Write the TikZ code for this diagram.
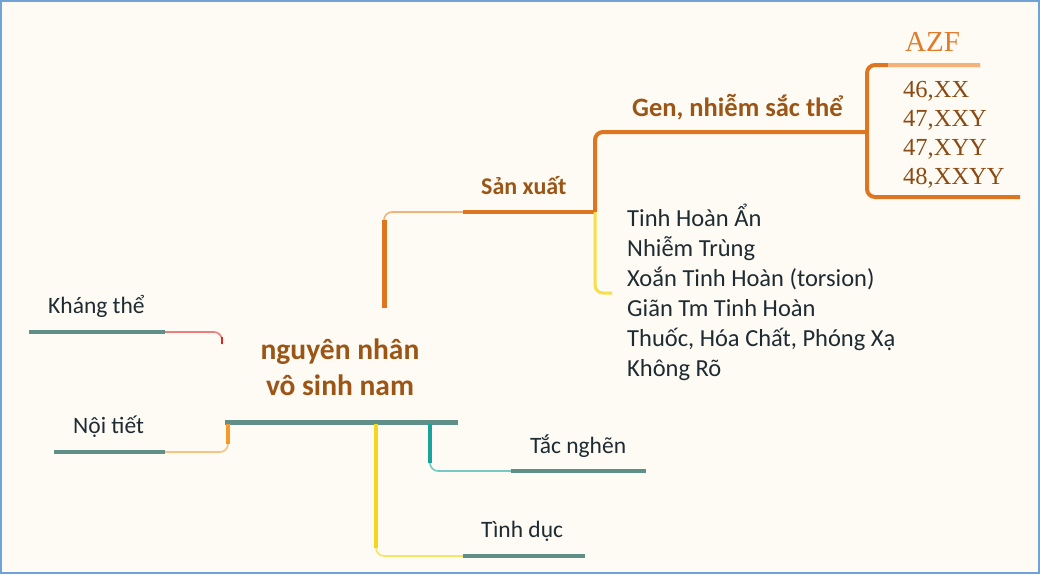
\documentclass[tikz,border=0pt]{standalone}
\usepackage{fontspec}
\setmainfont{Carlito}
\newfontfamily\karyofont{Liberation Serif}
\usetikzlibrary{positioning}
\definecolor{paper}{HTML}{FDFBF3}
\definecolor{frameblue}{HTML}{6FA3D8}
\definecolor{hubteal}{HTML}{5F8F86}
\definecolor{branchorange}{HTML}{DE7520}
\definecolor{lightorange}{HTML}{F2B27A}
\definecolor{titlebrown}{HTML}{9B5516}
\definecolor{karyobrown}{HTML}{8A4A14}
\definecolor{azforange}{HTML}{E07B2A}
\definecolor{inkdark}{HTML}{1E2B33}
\definecolor{twigyellow}{HTML}{F5D720}
\definecolor{twigred}{HTML}{E0261E}
\definecolor{twigteal}{HTML}{1AA399}
\definecolor{twigorange}{HTML}{F39A2A}
\tikzset{leaf/.style={font=\fontsize{23.5}{28}\selectfont,text=inkdark,inner sep=0pt,anchor=base west},
  main node/.style={font=\bfseries\fontsize{29.5}{36}\selectfont,text=titlebrown,align=center,inner sep=0pt},
  bold label/.style={font=\bfseries\fontsize{24}{28}\selectfont,text=titlebrown,inner sep=0pt,anchor=base west},
  karyo/.style={font=\karyofont\fontsize{24.5}{28}\selectfont,text=karyobrown,inner sep=0pt,anchor=base west},
  uline/.style={line width=4pt,hubteal},
  branch/.style={line width=4pt,branchorange,rounded corners=8pt},
  twig/.style={line width=1.6pt,rounded corners=8pt},
  stem/.style={line width=4pt,shorten >=8pt}}

\begin{document}
\begin{tikzpicture}[x=1pt,y=-1pt]
    \fill[paper] (0,0) rectangle (1040,574);
    \draw[frameblue,line width=2pt] (1,1) rectangle (1039,573);
    \useasboundingbox (0,0) rectangle (1040,574);
    % centre
    \node[main node] (root) at (340,367) {nguyên nhân\\vô sinh nam};
    \coordinate (hub-l) at (225,422);
    \coordinate (hub-r) at (458,422);
    \draw[line width=5pt,hubteal] (hub-l) -- (hub-r);
    % left side
    \node[leaf] (kt) at (48,313) {Kháng thể};
    \coordinate (kt-l) at (29,332);
    \coordinate (kt-r) at (165,332);
    \coordinate (kt-end) at (222,344);
    \draw[uline] (kt-l) -- (kt-r);
    \draw[twig,twigred!60] (kt-r) -| (kt-end);
    \draw[stem,twigred,line width=2.5pt,shorten >=5pt] (kt-end) -- (kt-end |- kt-r);
    \node[leaf] (nt) at (73,433) {Nội tiết};
    \coordinate (nt-l) at (54,452);
    \coordinate (nt-r) at (165,452);
    \coordinate (nt-top) at (228,424);
    \draw[uline] (nt-l) -- (nt-r);
    \draw[twig,twigorange!60] (nt-r) -| (nt-top);
    \draw[stem,twigorange] (nt-top) -- (nt-top |- nt-r);
    % bottom side
    \coordinate (hub-y) at (376,424);
    \coordinate (td-l) at (463,556);
    \coordinate (td-r) at (585,556);
    \node[leaf] (td) at (481,537) {Tình dục};
    \draw[twig,twigyellow!70] (hub-y) |- (td-l);
    \draw[stem,twigyellow] (hub-y) -- (hub-y |- td-l);
    \draw[uline] (td-l) -- (td-r);
    \coordinate (hub-t) at (430,424);
    \coordinate (tn-l) at (511,471);
    \coordinate (tn-r) at (646,471);
    \node[leaf] (tn) at (530,453) {Tắc nghẽn};
    \draw[twig,twigteal!60] (hub-t) |- (tn-l);
    \draw[stem,twigteal] (hub-t) -- (hub-t |- tn-l);
    \draw[uline] (tn-l) -- (tn-r);
    % production branch
    \coordinate (sx-root) at (384,308);
    \coordinate (sx-l) at (463,212);
    \coordinate (sx-r) at (595,212);
    \node[bold label] (sx) at (481,194) {Sản xuất};
    \draw[twig,lightorange] (sx-root) |- (sx-l);
    \draw[stem,branchorange,line width=5pt] (sx-root) -- (sx-root |- sx-l);
    \draw[line width=4pt,branchorange] (sx-l) -- (sx-r);
    \coordinate (gen-r) at (867,132);
    \node[bold label,font=\bfseries\fontsize{26.5}{30}\selectfont] (gen) at (632,116) {Gen, nhiễm sắc thể};
    \draw[branch] (sx-r) |- (gen-r);
    \coordinate (list-tip) at (612,293);
    \draw[line width=3pt,twigyellow!80,rounded corners=8pt] (sx-r) |- (list-tip);
    \foreach \txt [count=\i] in {Tinh Hoàn Ẩn,Nhiễm Trùng,Xoắn Tinh Hoàn (torsion),Giãn Tm Tinh Hoàn,{Thuốc, Hóa Chất, Phóng Xạ},Không Rõ}
      \node[leaf,font=\fontsize{24.5}{28}\selectfont] (c\i) at (627,196+30*\i) {\txt};
    % AZF bracket
    \coordinate (azf-r) at (980,65);
    \coordinate (kar-r) at (1020,197);
    \draw[branch] (gen-r) |- (azf-r);
    \draw[line width=4pt,lightorange] (888,65) -- (azf-r);
    \draw[branch] (gen-r) |- (kar-r);
    \node[font=\karyofont\fontsize{29}{30}\selectfont,text=azforange,inner sep=0pt,anchor=base west] (azf) at (905,51) {AZF};
    \foreach \txt [count=\i] in {{46,XX},{47,XXY},{47,XYY},{48,XXYY}}
      \node[karyo] (k\i) at (903,68+29*\i) {\txt};
\end{tikzpicture}
\end{document}
